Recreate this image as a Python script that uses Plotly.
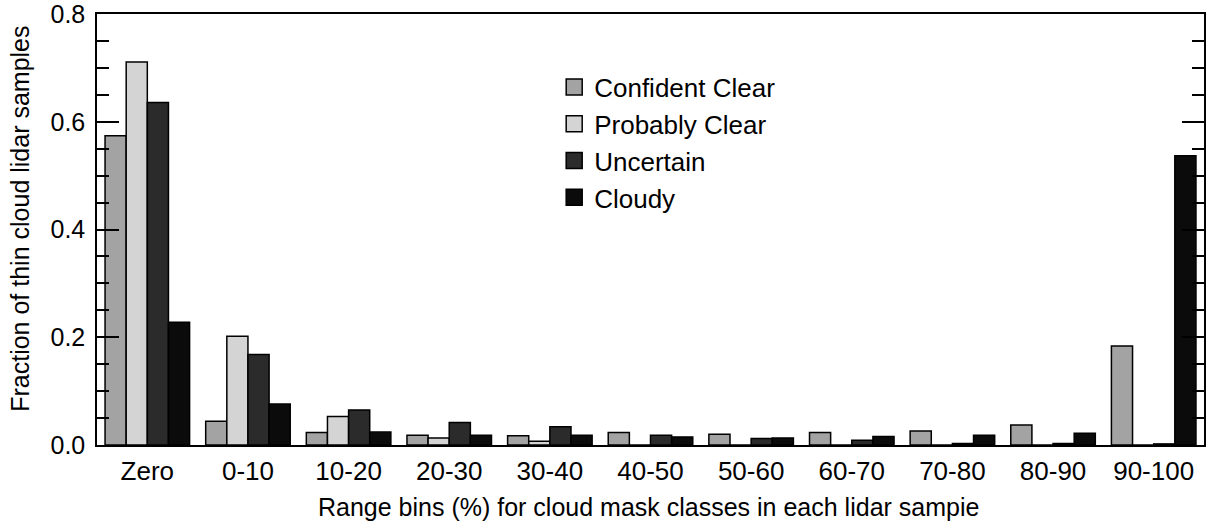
import plotly.graph_objects as go

categories = ["Zero", "0-10", "10-20", "20-30", "30-40", "40-50",
              "50-60", "60-70", "70-80", "80-90", "90-100"]
confident_clear = [0.574, 0.044, 0.023, 0.018, 0.017, 0.023, 0.020, 0.023, 0.026, 0.037, 0.184]
probably_clear = [0.711, 0.202, 0.053, 0.013, 0.007, 0.0, 0.0, 0.0, 0.0, 0.0, 0.0]
uncertain = [0.636, 0.168, 0.065, 0.042, 0.034, 0.018, 0.012, 0.009, 0.003, 0.003, 0.002]
cloudy = [0.228, 0.076, 0.024, 0.018, 0.018, 0.015, 0.013, 0.016, 0.018, 0.022, 0.537]

series_names = ["Confident Clear", "Probably Clear", "Uncertain", "Cloudy"]
series_values = [confident_clear, probably_clear, uncertain, cloudy]
series_colors = ["#a3a3a3", "#d4d4d4", "#2b2b2b", "#0b0b0b"]

y_ticks = [0.0, 0.2, 0.4, 0.6, 0.8]
y_ticktext = ["0.0", "0.2", "0.4", "0.6", "0.8"]

x_title = "Range bins (%) for cloud mask classes in each lidar sampie"
y_title = "Fraction of thin cloud lidar samples"

FONT = "Liberation Sans, Arial, Helvetica, sans-serif"

fig = go.Figure()
for name, vals, col in zip(series_names, series_values, series_colors):
    fig.add_trace(go.Bar(
        x=categories, y=vals, name=name, showlegend=False,
        marker=dict(color=col, line=dict(color="#000000", width=1.5)),
    ))
# legend entries (larger square symbols)
for name, col in zip(series_names, series_colors):
    fig.add_trace(go.Scatter(
        x=[None], y=[None], mode="markers", name=name,
        marker=dict(symbol="square", size=18, color=col,
                    line=dict(color="#000000", width=1.5)),
    ))

fig.update_layout(
    width=1211, height=531,
    margin=dict(l=97, r=7, t=14, b=86, autoexpand=False),
    paper_bgcolor="white", plot_bgcolor="white",
    barmode="group", bargap=0.16, bargroupgap=0.0,
    font=dict(family=FONT, size=26, color="#000000"),
    legend=dict(x=0.413, y=0.885, xanchor="left", yanchor="top",
                bgcolor="rgba(0,0,0,0)", font=dict(size=26),
                itemwidth=30, tracegroupgap=0),
    xaxis=dict(
        showline=True, linecolor="#000000", linewidth=1.5, mirror=True,
        ticks="", showgrid=False, ticklabelstandoff=2, automargin=False,
    ),
    yaxis=dict(
        range=[0, 0.8001], tickvals=y_ticks, ticktext=y_ticktext,
        tickfont=dict(size=25),
        showline=True, linecolor="#000000", linewidth=1.5, mirror="ticks",
        ticks="inside", ticklen=22, tickwidth=1.5, tickcolor="#000000",
        minor=dict(dtick=0.05, ticks="inside", ticklen=12, tickwidth=1.5,
                   tickcolor="#000000", showgrid=False),
        showgrid=False, zeroline=False, automargin=False, ticklabelstandoff=5,
        ticklabeloverflow="allow",
    ),
    annotations=[
        dict(text=x_title, xref="paper", yref="paper", x=0.498, y=-0.145,
             xanchor="center", yanchor="middle", showarrow=False,
             font=dict(size=25)),
        dict(text=y_title, xref="paper", yref="paper", x=-0.0695, y=0.525,
             xanchor="center", yanchor="middle", showarrow=False, textangle=-90,
             font=dict(size=25)),
    ],
)

fig.write_html("out.html", config={"displayModeBar": False},
               post_script="document.body.style.margin='0px';")
